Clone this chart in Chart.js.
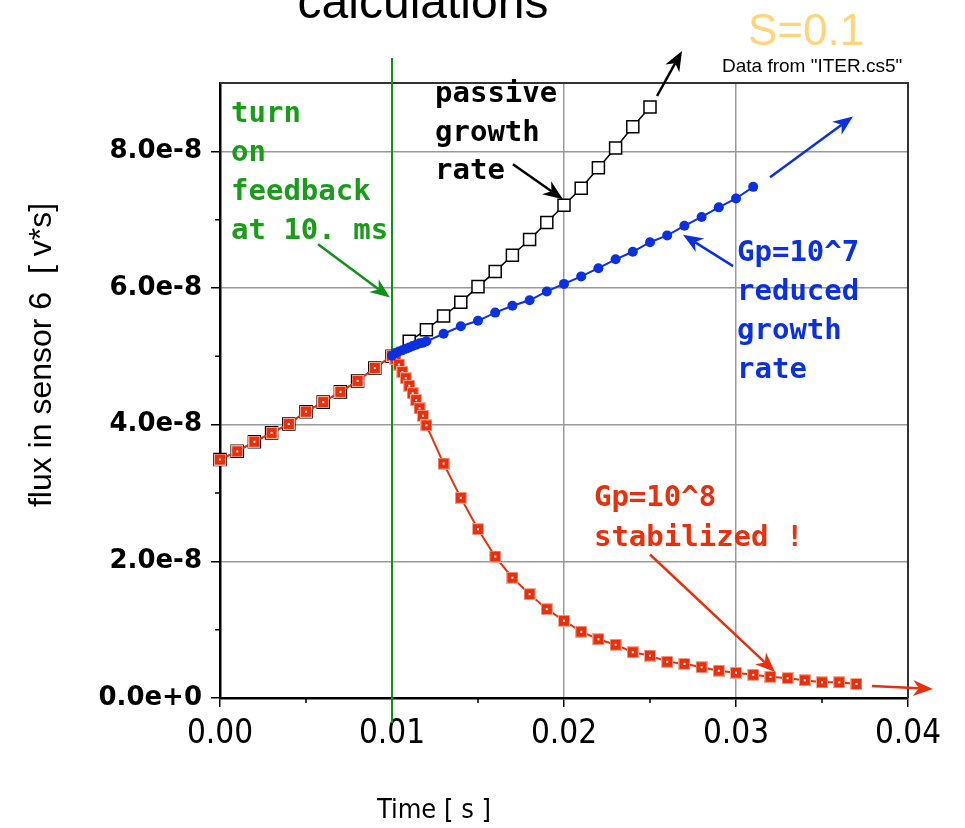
<!DOCTYPE html>
<html>
<head>
<meta charset="utf-8">
<script src="https://cdn.jsdelivr.net/npm/chart.js@4.4.1/dist/chart.umd.min.js"></script>
<style>
  html, body { margin: 0; padding: 0; background: #fff; }
  #wrap { width: 965px; height: 828px; position: relative; }
</style>
</head>
<body>
<div id="wrap"><canvas id="c"></canvas></div>
<script>
// Flux in sensor 6 vs time: passive growth and two feedback gains.
const INK = '#000', GRID = '#9a9a9a';
const RED = '#e8300c', BLUE = '#0b30e0', GREEN = '#12901a', GREEN_TXT = '#1a9c1a';
const SANS = "'Liberation Sans', Arial, sans-serif";
const NARROW = "'Liberation Sans Narrow', 'DejaVu Sans Condensed', 'Liberation Sans', sans-serif";
const MONO = "'DejaVu Sans Mono', monospace";

// ── data (flux in units of 1e-8 V*s) ─────────────────────────────────────────
const passiveT = [0.000, 0.001, 0.002, 0.003, 0.004, 0.005, 0.006, 0.007, 0.008, 0.009, 0.010,
  0.011, 0.012, 0.013, 0.014, 0.015, 0.016, 0.017, 0.018, 0.019, 0.020, 0.021, 0.022, 0.023, 0.024, 0.025];
const passiveFlux = [3.49, 3.61, 3.75, 3.88, 4.01, 4.19, 4.33, 4.48, 4.64, 4.83, 5.00,
  5.22, 5.39, 5.59, 5.79, 6.02, 6.24, 6.48, 6.71, 6.96, 7.21, 7.46, 7.76, 8.05, 8.36, 8.65];

const gp8T = [0.000, 0.001, 0.002, 0.003, 0.004, 0.005, 0.006, 0.007, 0.008, 0.009, 0.010,
  0.0102, 0.0104, 0.0106, 0.0108, 0.0110, 0.0112, 0.0114, 0.0116, 0.0118, 0.0120,
  0.013, 0.014, 0.015, 0.016, 0.017, 0.018, 0.019, 0.020, 0.021, 0.022, 0.023, 0.024, 0.025,
  0.026, 0.027, 0.028, 0.029, 0.030, 0.031, 0.032, 0.033, 0.034, 0.035, 0.036, 0.037];
const gp8Flux = [3.49, 3.61, 3.75, 3.88, 4.01, 4.19, 4.33, 4.48, 4.64, 4.83, 5.01,
  4.96, 4.88, 4.77, 4.68, 4.57, 4.46, 4.36, 4.24, 4.13, 3.99,
  3.43, 2.93, 2.47, 2.07, 1.76, 1.52, 1.30, 1.13, 0.97, 0.86, 0.78, 0.67, 0.62,
  0.53, 0.50, 0.45, 0.40, 0.37, 0.34, 0.31, 0.29, 0.26, 0.23, 0.23, 0.205];

const gp7T = [0.010,
  0.0102, 0.0104, 0.0106, 0.0108, 0.0110, 0.0112, 0.0114, 0.0116, 0.0118, 0.0120,
  0.013, 0.014, 0.015, 0.016, 0.017, 0.018, 0.019, 0.020, 0.021, 0.022, 0.023, 0.024, 0.025,
  0.026, 0.027, 0.028, 0.029, 0.030, 0.031];
const gp7Flux = [5.01,
  5.05, 5.07, 5.09, 5.11, 5.13, 5.15, 5.17, 5.19, 5.20, 5.22,
  5.33, 5.44, 5.52, 5.64, 5.74, 5.82, 5.95, 6.06, 6.17, 6.29, 6.42, 6.53, 6.67,
  6.77, 6.91, 7.04, 7.18, 7.31, 7.48];

const xTicks = [0, 0.01, 0.02, 0.03, 0.04];
const xTickLabels = ['0.00', '0.01', '0.02', '0.03', '0.04'];
const xMinor = [0.005, 0.015, 0.025, 0.035];
const yTicks = [0, 2e-8, 4e-8, 6e-8, 8e-8];
const yTickLabels = ['0.0e+0', '2.0e-8', '4.0e-8', '6.0e-8', '8.0e-8'];
const yMinor = [1e-8, 3e-8, 5e-8, 7e-8];
const FEEDBACK_ON = 0.010;

const pts = (ts, vs) => ts.map((t, i) => ({ x: t, y: vs[i] * 1e-8 }));

// ── annotations, anchored in data units ─────────────────────────────────────
const notes = [
  { lines: ['turn', 'on', 'feedback', 'at 10. ms'], x: 0.00064, y: 8.425e-8, gap: 39, color: GREEN_TXT },
  { lines: ['passive', 'growth', 'rate'], x: 0.0125, y: 8.72e-8, gap: 38.5, color: INK },
  { lines: ['Gp=10^7', 'reduced', 'growth', 'rate'], x: 0.03006, y: 6.40e-8, gap: 39, color: BLUE },
  { lines: ['Gp=10^8', 'stabilized !'], x: 0.02174, y: 2.81e-8, gap: 40, color: RED },
];
const arrows = [
  { from: [0.0057, 6.64e-8], to: [0.00988, 5.86e-8], color: GREEN },
  { from: [0.01703, 7.81e-8], to: [0.01994, 7.30e-8], color: INK },
  { from: [0.02541, 8.81e-8], to: [0.02686, 9.47e-8], color: INK },
  { from: [0.03198, 7.62e-8], to: [0.0368, 8.51e-8], color: BLUE },
  { from: [0.02983, 6.32e-8], to: [0.02692, 6.78e-8], color: BLUE },
  { from: [0.0250, 2.10e-8], to: [0.03227, 0.38e-8], color: RED },
  { from: [0.0379, 0.176e-8], to: [0.04145, 0.132e-8], color: RED },
];

// red square marker with a light rim and a white centre dot
function redMarker() {
  const c = document.createElement('canvas');
  c.width = c.height = 12;
  const g = c.getContext('2d');
  g.fillStyle = '#f6a896'; g.fillRect(0, 0, 12, 12);
  g.fillStyle = RED; g.fillRect(1, 1, 10, 10);
  g.fillStyle = '#fff'; g.fillRect(5, 5, 2, 2);
  return c;
}

function dart(ctx, x0, y0, x1, y1, color) {
  const a = Math.atan2(y1 - y0, x1 - x0), L = 20, W = 8;
  ctx.save();
  ctx.strokeStyle = color; ctx.fillStyle = color; ctx.lineWidth = 2.5;
  ctx.beginPath();
  ctx.moveTo(x0, y0);
  ctx.lineTo(x1 - Math.cos(a) * L * 0.7, y1 - Math.sin(a) * L * 0.7);
  ctx.stroke();
  ctx.translate(x1, y1); ctx.rotate(a);
  ctx.beginPath();
  ctx.moveTo(0, 0); ctx.lineTo(-L, -W); ctx.lineTo(-L * 0.7, 0); ctx.lineTo(-L, W);
  ctx.closePath(); ctx.fill();
  ctx.restore();
}

const deco = {
  id: 'deco',
  beforeDatasetsDraw(chart) {
    const { ctx, chartArea: a, scales: { x, y } } = chart;
    ctx.save();
    // frame top/right
    ctx.strokeStyle = '#333'; ctx.lineWidth = 2;
    ctx.beginPath();
    ctx.moveTo(a.left, a.top); ctx.lineTo(a.right, a.top); ctx.lineTo(a.right, a.bottom);
    ctx.stroke();
    // minor ticks
    ctx.strokeStyle = INK; ctx.lineWidth = 1.5;
    ctx.beginPath();
    xMinor.forEach(v => { const px = x.getPixelForValue(v); ctx.moveTo(px, a.bottom); ctx.lineTo(px, a.bottom + 5); });
    yMinor.forEach(v => { const py = y.getPixelForValue(v); ctx.moveTo(a.left, py); ctx.lineTo(a.left - 5, py); });
    ctx.stroke();
    // feedback switch-on time
    const gx = x.getPixelForValue(FEEDBACK_ON);
    ctx.strokeStyle = GREEN; ctx.lineWidth = 2;
    ctx.beginPath(); ctx.moveTo(gx, a.top - 25); ctx.lineTo(gx, a.bottom + 25); ctx.stroke();
    ctx.restore();
  },
  afterDraw(chart) {
    const { ctx, scales: { x, y } } = chart;
    arrows.forEach(r => dart(ctx, x.getPixelForValue(r.from[0]), y.getPixelForValue(r.from[1]),
      x.getPixelForValue(r.to[0]), y.getPixelForValue(r.to[1]), r.color));

    ctx.save();
    ctx.textBaseline = 'alphabetic'; ctx.textAlign = 'left';
    ctx.font = `bold 29px ${MONO}`;
    notes.forEach(n => {
      ctx.fillStyle = n.color;
      const px = x.getPixelForValue(n.x), py = y.getPixelForValue(n.y);
      n.lines.forEach((s, i) => ctx.fillText(s, px, py + i * n.gap));
    });

    // headings above the frame
    ctx.fillStyle = INK; ctx.textAlign = 'center';
    ctx.font = `48px ${SANS}`;
    ctx.fillText('calculations', 423, 18);
    ctx.textAlign = 'left';
    ctx.fillStyle = '#ffd47c'; ctx.font = `44px ${SANS}`;
    ctx.fillText('S=0.1', 748, 45);
    ctx.fillStyle = INK; ctx.font = `19px ${SANS}`;
    ctx.fillText('Data from "ITER.cs5"', 722, 72);

    // axis titles
    ctx.textAlign = 'center';
    ctx.font = `27px ${NARROW}`;
    ctx.fillText('Time [ s ]', 434, 818);
    ctx.translate(51, 355); ctx.rotate(-Math.PI / 2);
    ctx.font = `32px ${SANS}`;
    ctx.fillText('flux in sensor 6  [ v*s]', 0, 0);
    ctx.restore();
  },
};

new Chart(document.getElementById('c'), {
  type: 'line',
  data: {
    datasets: [
      {
        label: 'passive', data: pts(passiveT, passiveFlux), order: 3, clip: false,
        borderColor: INK, borderWidth: 1.5,
        pointStyle: 'rect', pointRadius: 8.5, pointBorderWidth: 1.5,
        pointBorderColor: INK, pointBackgroundColor: '#fff',
      },
      {
        label: 'Gp=10^8', data: pts(gp8T, gp8Flux), order: 2, clip: false,
        borderColor: RED, borderWidth: 2,
        pointStyle: redMarker(), pointRadius: 6,
      },
      {
        label: 'Gp=10^7', data: pts(gp7T, gp7Flux), order: 1, clip: false,
        borderColor: BLUE, borderWidth: 2,
        pointStyle: 'circle', pointRadius: 5, pointBorderWidth: 0, pointBackgroundColor: BLUE,
      },
    ],
  },
  options: {
    responsive: true, maintainAspectRatio: false, animation: false,
    layout: { padding: { top: 83, right: 57, left: 0, bottom: 0 } },
    plugins: { legend: { display: false }, tooltip: { enabled: false }, title: { display: false } },
    elements: { line: { tension: 0 } },
    scales: {
      x: {
        type: 'linear', min: 0, max: 0.04,
        afterBuildTicks: s => { s.ticks = xTicks.map(v => ({ value: v })); },
        afterFit: s => { s.height = 130; },
        ticks: { callback: (v, i) => xTickLabels[i], color: INK, font: { family: NARROW, size: 33 }, padding: 8, maxRotation: 0 },
        grid: {
          color: c => (c.tick && c.tick.value > 0 && c.tick.value < 0.04 ? GRID : 'rgba(0,0,0,0)'),
          lineWidth: 1.5, tickColor: INK, tickLength: 9,
        },
        border: { color: INK, width: 2.5 },
      },
      y: {
        type: 'linear', min: 0, max: 9e-8,
        afterBuildTicks: s => { s.ticks = yTicks.map(v => ({ value: v })); },
        afterFit: s => { s.width = 220; },
        ticks: { callback: (v, i) => yTickLabels[i], color: INK, font: { family: "'DejaVu Sans'", size: 26, weight: 'bold' }, padding: 9 },
        grid: {
          color: c => (c.tick && c.tick.value > 0 ? GRID : 'rgba(0,0,0,0)'),
          lineWidth: 1.5, tickColor: INK, tickLength: 9,
        },
        border: { color: INK, width: 2.5 },
      },
    },
  },
  plugins: [deco],
});
</script>
</body>
</html>
